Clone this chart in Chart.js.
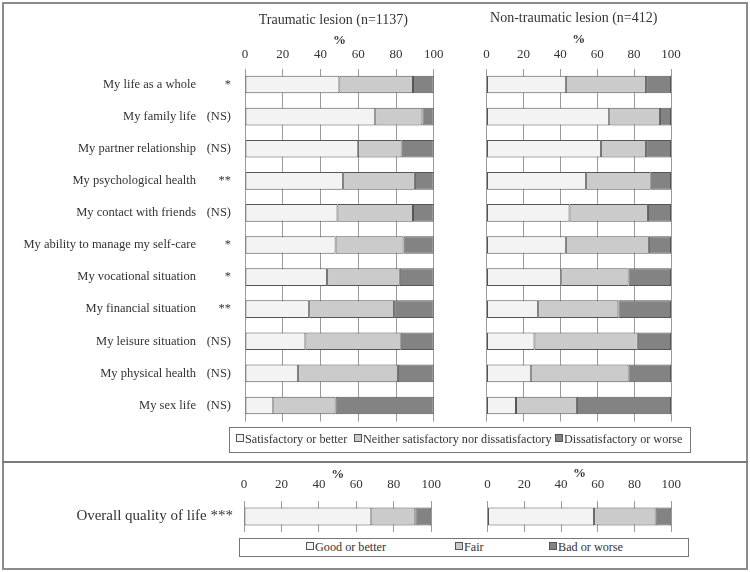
<!DOCTYPE html>
<html>
<head>
<meta charset="utf-8">
<script src="https://cdn.jsdelivr.net/npm/chart.js@4/dist/chart.umd.min.js"></script>
<style>
body { margin: 0; background: #fff; }
#wrap { position: relative; width: 750px; height: 572px; overflow: hidden; font-family: "Liberation Serif", serif; color: #333; }
#frame { position: absolute; left: 2px; top: 2px; width: 746px; height: 568px; border: 2px solid #8c8c8c; box-sizing: border-box; }
#divider { position: absolute; left: 2px; top: 461px; width: 746px; border-top: 2px solid #7a7a7a; }
canvas { position: absolute; }
.legend { position: absolute; border: 1.5px solid #777; box-sizing: border-box; font-size: 12.2px; }
.item { position: absolute; white-space: nowrap; line-height: 14px; }
.sw { display: inline-block; width: 6px; height: 6px; border: 1px solid #555; margin-right: 1px; vertical-align: 1px; }
</style>
</head>
<body>
<div id="wrap">
  <div id="frame"></div>
  <div id="divider"></div>
  <canvas id="topTraumatic" width="450" height="430" style="left:0;top:0"></canvas>
  <canvas id="topNonTraumatic" width="220" height="430" style="left:470px;top:0"></canvas>
  <canvas id="overallTraumatic" width="450" height="76" style="left:0;top:462px"></canvas>
  <canvas id="overallNonTraumatic" width="220" height="76" style="left:470px;top:462px"></canvas>
  <div class="legend" id="legendTop" style="left:229px;top:427px;width:462px;height:26px"></div>
  <div class="legend" id="legendBottom" style="left:239px;top:538px;width:450px;height:19px"></div>
</div>
<script>
// data (% of respondents)
const categories = ['My life as a whole', 'My family life', 'My partner relationship', 'My psychological health',
   'My contact with friends', 'My ability to manage my self-care', 'My vocational situation',
   'My financial situation', 'My leisure situation', 'My physical health', 'My sex life'];
const significance = ['*', '(NS)', '(NS)', '**', '(NS)', '*', '*', '**', '(NS)', '(NS)', '(NS)'];

const traumaticSatisfied = [50, 69, 60, 52, 49, 48, 43.5, 34, 32, 28, 15];
const traumaticNeither = [39, 25, 23, 38, 40, 36, 38.5, 45, 50.5, 53, 33];
const traumaticDissatisfied = [11, 6, 17, 10, 11, 16, 18, 21, 17.5, 19, 52];

const nonTraumaticSatisfied = [43, 66.5, 62, 54, 45, 43, 40.5, 28, 26, 24, 16];
const nonTraumaticNeither = [43.5, 27.5, 24.5, 35, 42.5, 45, 36.5, 43.5, 56, 53, 33];
const nonTraumaticDissatisfied = [13.5, 6, 13.5, 11, 12.5, 12, 23, 28.5, 18, 23, 51];

const overallCategory = ['Overall quality of life'];
const overallSignificance = ['***'];
const overallTraumatic = [68, 23.5, 8.5];      // good, fair, bad
const overallNonTraumatic = [58, 33.5, 8.5];

const xTicks = [0, 20, 40, 60, 80, 100];
const panelTitles = ['Traumatic lesion (n=1137)', 'Non-traumatic lesion (n=412)'];
const domainLegend = ['Satisfactory or better', 'Neither satisfactory nor dissatisfactory', 'Dissatisfactory or worse'];
const overallLegend = ['Good or better', 'Fair', 'Bad or worse'];

const fills = ['#f3f3f3', '#cbcbcb', '#838383'];
const edge = '#555555';
const textColor = '#333333';
const fontFamily = '"Liberation Serif", "Times New Roman", serif';

// panel heading + significance marks
const panelText = {
   id: 'panelText',
   afterDraw(chart, args, opts) {
      const { ctx, chartArea, scales } = chart;
      ctx.save();
      ctx.fillStyle = textColor;
      ctx.textBaseline = 'middle';
      if (opts.heading) {
         ctx.font = '14px ' + fontFamily;
         ctx.textAlign = 'center';
         ctx.fillText(opts.heading, (chartArea.left + chartArea.right) / 2 + opts.dx, opts.y);
      }
      if (opts.marks) {
         ctx.font = '12.5px ' + fontFamily;
         ctx.textAlign = 'right';
         opts.marks.forEach((m, i) => {
            ctx.fillText(m, chartArea.left - 14, scales.y.getPixelForValue(i));
         });
      }
      ctx.restore();
   }
};

function makeDatasets(values) {
   return values.map((v, i) => ({
      data: v,
      backgroundColor: fills[i],
      borderColor: edge,
      borderWidth: 1,
      borderSkipped: false
   }));
}

function makePanel(id, cfg) {
   return new Chart(document.getElementById(id), {
      type: 'bar',
      data: { labels: cfg.labels, datasets: makeDatasets(cfg.values) },
      options: {
         indexAxis: 'y',
         responsive: false,
         animation: false,
         barPercentage: cfg.barPercentage,
         categoryPercentage: 1,
         layout: { padding: cfg.padding },
         scales: {
            x: {
               type: 'linear',
               position: 'top',
               stacked: true,
               min: 0,
               max: 100,
               afterBuildTicks: s => { s.ticks = xTicks.map(v => ({ value: v })); },
               afterFit: s => { s.height = cfg.axisHeight; },
               ticks: { color: textColor, font: { family: fontFamily, size: 13 }, padding: cfg.tickPad },
               grid: { color: '#9a9a9a', drawTicks: false },
               border: { display: false },
               title: {
                  display: true, text: '%', color: textColor,
                  font: { family: fontFamily, size: 13, weight: 'bold' },
                  padding: { top: cfg.pctPad, bottom: 0 }
               }
            },
            y: {
               stacked: true,
               display: cfg.showLabels,
               afterFit: s => {
                  if (cfg.showLabels) s.width = cfg.labelWidth;
                  // label padding must not shrink the plot vertically
                  s.paddingTop = 0;
                  s.paddingBottom = 0;
               },
               ticks: { color: textColor, font: { family: fontFamily, size: cfg.labelSize }, padding: cfg.labelPad },
               grid: { display: false, drawTicks: false },
               border: { display: false }
            }
         },
         plugins: {
            legend: { display: false },
            tooltip: { enabled: false },
            panelText: cfg.text
         }
      },
      plugins: [panelText]
   });
}

makePanel('topTraumatic', {
   labels: categories,
   values: [traumaticSatisfied, traumaticNeither, traumaticDissatisfied],
   barPercentage: 0.55,
   padding: { left: 0, right: 13, top: 0, bottom: 8.5 },
   axisHeight: 68.5, tickPad: 6.5, pctPad: 33,
   showLabels: true, labelWidth: 245, labelPad: 49, labelSize: 12.5,
   text: { heading: panelTitles[0], dx: -6, y: 20, marks: significance }
});

makePanel('topNonTraumatic', {
   labels: categories,
   values: [nonTraumaticSatisfied, nonTraumaticNeither, nonTraumaticDissatisfied],
   barPercentage: 0.55,
   padding: { left: 16.5, right: 19, top: 0, bottom: 8.5 },
   axisHeight: 68.5, tickPad: 6.5, pctPad: 32,
   showLabels: false, labelSize: 12.5,
   text: { heading: panelTitles[1], dx: -5, y: 18 }
});

const overallLabels = overallCategory.map((c, i) => c + ' ' + overallSignificance[i]);

makePanel('overallTraumatic', {
   labels: overallLabels,
   values: overallTraumatic.map(v => [v]),
   barPercentage: 0.58,
   padding: { left: 0, right: 18, top: 0, bottom: 6 },
   axisHeight: 39, tickPad: 9, pctPad: 5,
   showLabels: true, labelWidth: 244, labelPad: 11, labelSize: 15,
   text: {}
});

makePanel('overallNonTraumatic', {
   labels: overallLabels,
   values: overallNonTraumatic.map(v => [v]),
   barPercentage: 0.58,
   padding: { left: 17.5, right: 16, top: 0, bottom: 6 },
   axisHeight: 39, tickPad: 9, pctPad: 4,
   showLabels: false, labelSize: 15,
   text: {}
});

// legends (html boxes under the panels)
function fillLegend(id, names, lefts, top) {
   const box = document.getElementById(id);
   names.forEach((n, i) => {
      const item = document.createElement('div');
      item.className = 'item';
      item.style.left = lefts[i] + 'px';
      item.style.top = top + 'px';
      const sw = document.createElement('span');
      sw.className = 'sw';
      sw.style.background = fills[i];
      item.appendChild(sw);
      item.appendChild(document.createTextNode(n));
      box.appendChild(item);
   });
}
fillLegend('legendTop', domainLegend, [6, 124, 325], 4);
fillLegend('legendBottom', overallLegend, [66, 215, 309], 1);
</script>
</body>
</html>
